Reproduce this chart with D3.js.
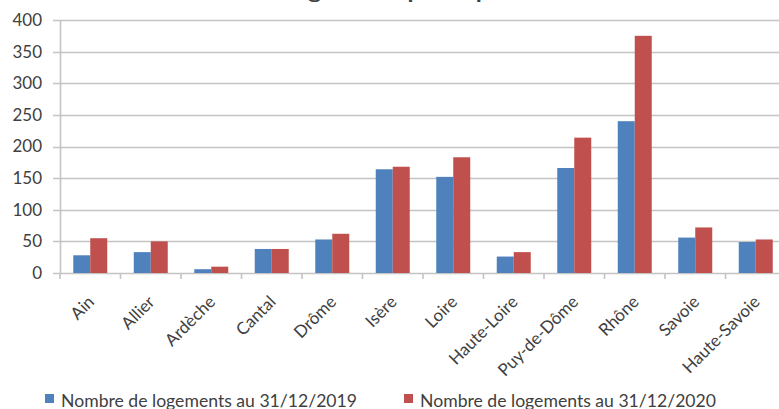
<!DOCTYPE html>
<html>
<head>
<meta charset="utf-8">
<script src="https://cdn.jsdelivr.net/npm/d3@7"></script>
<style>
  html, body { margin: 0; padding: 0; background: #fff; }
  svg { display: block; }
  text { font-family: Lato, "Liberation Sans", sans-serif; fill: #404040; }
</style>
</head>
<body>
<svg id="chart" width="779" height="409"></svg>
<script>
// Départements and housing counts at two dates
const departements = ["Ain", "Allier", "Ardèche", "Cantal", "Drôme", "Isère", "Loire",
  "Haute-Loire", "Puy-de-Dôme", "Rhône", "Savoie", "Haute-Savoie"];
const logements2019 = [28, 33, 6, 38, 53, 164, 152, 26, 166, 240, 56, 49];
const logements2020 = [55, 50, 10, 38, 62, 168, 183, 33, 214, 375, 72, 53];
const seriesNames = ["Nombre de logements au 31/12/2019", "Nombre de logements au 31/12/2020"];
const seriesColors = ["#4F81BD", "#C0504D"];
const yTicks = [0, 50, 100, 150, 200, 250, 300, 350, 400];
const chartTitle = "Nombre de logements par département";

const svg = d3.select("#chart");
const plot = { left: 60, right: 786, top: 20, bottom: 273 };

const x = d3.scaleBand().domain(departements).range([plot.left, plot.right]).padding(0);
const xs = d3.scaleBand().domain([0, 1]).range([0, x.bandwidth()])
  .paddingInner(0).paddingOuter(0.78);
const y = d3.scaleLinear().domain([0, 400]).range([plot.bottom, plot.top]);

// Title (top of the chart frame)
svg.append("text")
  .attr("x", 160).attr("y", -1.5)
  .attr("textLength", 430).attr("lengthAdjust", "spacingAndGlyphs")
  .style("font-weight", "bold").style("font-size", "19px")
  .text(chartTitle);

// Horizontal gridlines
svg.append("g").selectAll("line").data(yTicks).join("line")
  .attr("x1", plot.left - 7).attr("x2", 779)
  .attr("y1", d => Math.round(y(d)) + 0.5).attr("y2", d => Math.round(y(d)) + 0.5)
  .attr("stroke", "#c4c4c4").attr("stroke-width", 1.6);

// Y axis
const yAxis = d3.axisLeft(y).tickValues(yTicks).tickSize(0).tickPadding(18);
const gy = svg.append("g").attr("transform", `translate(${plot.left},0)`).call(yAxis);
gy.select(".domain").attr("stroke", "#c4c4c4").attr("stroke-width", 1.6);
gy.selectAll("text").style("font-size", "17px").style("font-family", "Lato, sans-serif")
  .attr("fill", "#404040");

// X axis category ticks
const bounds = departements.map(d => x(d)).concat([plot.right]);
svg.append("g").selectAll("line").data(bounds).join("line")
  .attr("x1", d => d).attr("x2", d => d)
  .attr("y1", plot.bottom).attr("y2", plot.bottom + 6)
  .attr("stroke", "#c4c4c4").attr("stroke-width", 1.6);

// Bars
const values = [logements2019, logements2020];
const barData = [];
departements.forEach((dep, i) => {
  values.forEach((vals, s) => barData.push({ dep, s, v: vals[i] }));
});
svg.append("g").selectAll("rect").data(barData).join("rect")
  .attr("x", d => x(d.dep) + xs(d.s))
  .attr("width", xs.bandwidth())
  .attr("y", d => y(d.v))
  .attr("height", d => y(0) - y(d.v))
  .attr("fill", d => seriesColors[d.s]);

// Category labels, rotated
svg.append("g").selectAll("text").data(departements).join("text")
  .attr("transform", d => `translate(${x(d) + x.bandwidth() / 2 + 5},303) rotate(-45)`)
  .attr("text-anchor", "end")
  .style("font-size", "17px")
  .text(d => d);

// Legend
const legendX = [45, 404];
const legend = svg.append("g").selectAll("g").data(seriesNames).join("g")
  .attr("transform", (d, i) => `translate(${legendX[i]},394)`);
legend.append("rect").attr("width", 9).attr("height", 9)
  .attr("fill", (d, i) => seriesColors[i]);
legend.append("text").attr("x", 16).attr("y", 12.5)
  .attr("textLength", 296).attr("lengthAdjust", "spacingAndGlyphs")
  .style("font-size", "17px")
  .text(d => d);
</script>
</body>
</html>
